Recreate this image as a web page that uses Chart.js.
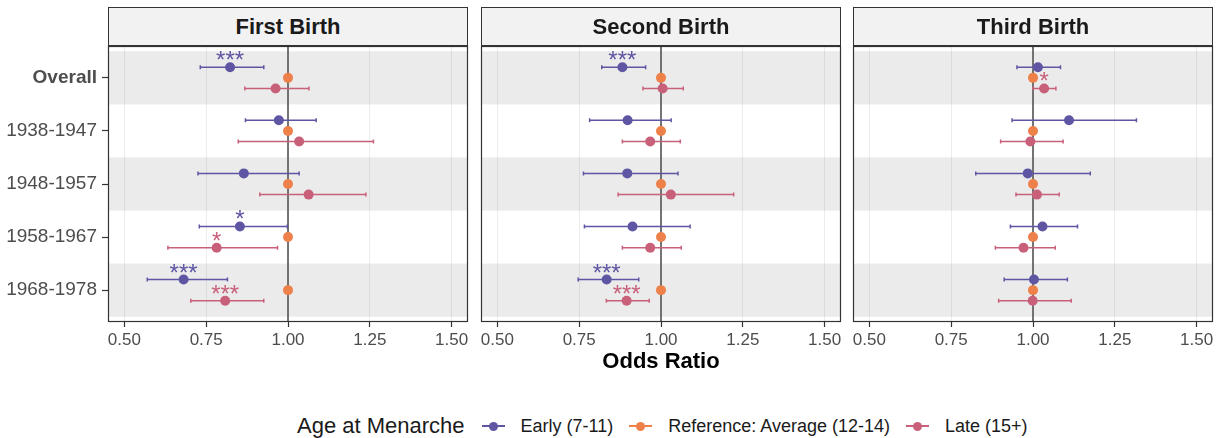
<!DOCTYPE html>
<html>
<head>
<meta charset="utf-8">
<script src="https://cdn.jsdelivr.net/npm/chart.js@4.4.1/dist/chart.umd.min.js"></script>
<style>
  html, body { margin:0; padding:0; background:#ffffff; }
  body { width:1225px; height:438px; position:relative; overflow:hidden; font-family:"Liberation Sans", Arial, sans-serif; }
  canvas { position:absolute; }
  .strip { position:absolute; top:7px; height:39px; box-sizing:border-box; border:1px solid #333; background:#F2F2F2;
           font-weight:bold; font-size:22px; color:#1A1A1A; display:flex; align-items:center; justify-content:center; }
  .axtitle { position:absolute; left:481px; width:360px; top:348px; text-align:center; font-weight:bold; font-size:22px; color:#000; }
  .legend { position:absolute; left:297px; top:411px; height:30px; display:flex; align-items:center; white-space:nowrap; }
  .legend .ttl { font-size:22px; color:#1A1A1A; margin-right:17px; }
  .legend .key { position:relative; width:23px; height:20px; margin-right:16px; }
  .legend .key .ln { position:absolute; left:0; right:0; top:9px; height:2px; }
  .legend .key .dt { position:absolute; left:7px; top:5.5px; width:9px; height:9px; border-radius:50%; }
  .legend .lab { font-size:18px; color:#1A1A1A; margin-right:16px; }
</style>
</head>
<body>
<canvas id="c0" width="473" height="311" style="left:0px;top:41px;width:473px;height:311px"></canvas>
<canvas id="c1" width="370" height="311" style="left:476px;top:41px;width:370px;height:311px"></canvas>
<canvas id="c2" width="370" height="311" style="left:848px;top:41px;width:370px;height:311px"></canvas>
<div id="strips"></div>
<div class="axtitle">Odds Ratio</div>
<div class="legend" id="legend"></div>
<script>
// ---------- data ----------
const categories = ['Overall', '1938-1947', '1948-1957', '1958-1967', '1968-1978'];
const panelTitles = ['First Birth', 'Second Birth', 'Third Birth'];
const seriesNames = ['Early (7-11)', 'Reference: Average (12-14)', 'Late (15+)'];
const xTickValues = [0.5, 0.75, 1.0, 1.25, 1.5];
const legendTitle = 'Age at Menarche';
const axisTitle = 'Odds Ratio';

const referenceOR = [1, 1, 1, 1, 1];

// First Birth
const firstEarlyOR = [0.823, 0.972, 0.865, 0.853, 0.681];
const firstEarlyLo = [0.732, 0.870, 0.725, 0.729, 0.570];
const firstEarlyHi = [0.926, 1.086, 1.034, 0.998, 0.815];
const firstEarlySig = ['***', '', '', '*', '***'];
const firstLateOR = [0.962, 1.034, 1.063, 0.782, 0.808];
const firstLateLo = [0.868, 0.848, 0.914, 0.633, 0.703];
const firstLateHi = [1.064, 1.261, 1.238, 0.968, 0.926];
const firstLateSig = ['', '', '', '*', '***'];

// Second Birth
const secondEarlyOR = [0.882, 0.898, 0.897, 0.913, 0.834];
const secondEarlyLo = [0.819, 0.782, 0.763, 0.766, 0.747];
const secondEarlyHi = [0.953, 1.031, 1.052, 1.089, 0.932];
const secondEarlySig = ['***', '', '', '', '***'];
const secondLateOR = [1.005, 0.967, 1.030, 0.967, 0.895];
const secondLateLo = [0.945, 0.882, 0.869, 0.882, 0.833];
const secondLateHi = [1.068, 1.059, 1.222, 1.062, 0.964];
const secondLateSig = ['', '', '', '', '***'];

// Third Birth
const thirdEarlyOR = [1.015, 1.110, 0.984, 1.029, 1.003];
const thirdEarlyLo = [0.951, 0.936, 0.825, 0.931, 0.912];
const thirdEarlyHi = [1.084, 1.316, 1.175, 1.136, 1.105];
const thirdEarlySig = ['', '', '', '', ''];
const thirdLateOR = [1.034, 0.992, 1.012, 0.971, 0.999];
const thirdLateLo = [1.000, 0.901, 0.948, 0.885, 0.895];
const thirdLateHi = [1.070, 1.092, 1.080, 1.068, 1.117];
const thirdLateSig = ['*', '', '', '', ''];

// ---------- styling ----------
const FONT = '"Liberation Sans", Arial, sans-serif';
const colors = ['#5E56A3', '#EE8049', '#C8607A'];
const dodge = [-0.2, 0, 0.2];

const panels = [
  { early: [firstEarlyOR, firstEarlyLo, firstEarlyHi, firstEarlySig], late: [firstLateOR, firstLateLo, firstLateHi, firstLateSig] },
  { early: [secondEarlyOR, secondEarlyLo, secondEarlyHi, secondEarlySig], late: [secondLateOR, secondLateLo, secondLateHi, secondLateSig] },
  { early: [thirdEarlyOR, thirdEarlyLo, thirdEarlyHi, thirdEarlySig], late: [thirdLateOR, thirdLateLo, thirdLateHi, thirdLateSig] }
];

const decor = {
  id: 'decor',
  beforeDraw(chart) {
    const { ctx, chartArea: a, scales: { y } } = chart;
    ctx.save();
    ctx.fillStyle = '#ffffff';
    ctx.fillRect(a.left, a.top, a.right - a.left, a.bottom - a.top);
    ctx.fillStyle = '#EBEBEB';
    categories.forEach((c, i) => {
      if (i % 2 === 0) {
        const t = y.getPixelForValue(i - 0.5), b = y.getPixelForValue(i + 0.5);
        ctx.fillRect(a.left, Math.min(t, b), a.right - a.left, Math.abs(b - t));
      }
    });
    ctx.restore();
  },
  beforeDatasetsDraw(chart) {
    const { ctx, chartArea: a, scales: { x, y } } = chart;
    ctx.save();
    const x1 = x.getPixelForValue(1);
    ctx.strokeStyle = '#666666';
    ctx.lineWidth = 1.8;
    ctx.beginPath(); ctx.moveTo(x1, a.top); ctx.lineTo(x1, a.bottom); ctx.stroke();
    chart.data.datasets.forEach(ds => {
      if (!ds.errLo) return;
      ctx.strokeStyle = ds.errColor;
      ctx.lineWidth = 1.5;
      ds.data.forEach((p, i) => {
        const yp = y.getPixelForValue(p.y);
        const xl = x.getPixelForValue(ds.errLo[i]), xh = x.getPixelForValue(ds.errHi[i]);
        ctx.beginPath();
        ctx.moveTo(xl, yp); ctx.lineTo(xh, yp);
        ctx.moveTo(xl, yp - 2); ctx.lineTo(xl, yp + 2);
        ctx.moveTo(xh, yp - 2); ctx.lineTo(xh, yp + 2);
        ctx.stroke();
      });
    });
    ctx.restore();
  },
  afterDatasetsDraw(chart) {
    const { ctx, scales: { x, y } } = chart;
    ctx.save();
    ctx.font = '24px ' + FONT;
    ctx.textAlign = 'center';
    ctx.textBaseline = 'alphabetic';
    chart.data.datasets.forEach(ds => {
      if (!ds.sig) return;
      ctx.fillStyle = ds.errColor;
      ds.data.forEach((p, i) => {
        if (ds.sig[i]) ctx.fillText(ds.sig[i], x.getPixelForValue(p.x), y.getPixelForValue(p.y) + 1);
      });
    });
    ctx.restore();
  },
  afterDraw(chart) {
    const { ctx, chartArea: a } = chart;
    ctx.save();
    ctx.strokeStyle = '#333333';
    ctx.lineWidth = 1.2;
    ctx.strokeRect(Math.round(a.left) + 0.5, Math.round(a.top) + 0.5, Math.round(a.right - a.left) - 1, Math.round(a.bottom - a.top) - 1);
    ctx.restore();
  }
};

function buildDatasets(p) {
  const mk = (name, color, off, or, lo, hi, sig) => ({
    label: name,
    data: or.map((v, i) => ({ x: v, y: i + off })),
    backgroundColor: color,
    borderWidth: 0,
    pointRadius: 5,
    pointHoverRadius: 5,
    errLo: lo, errHi: hi, sig: sig, errColor: color
  });
  return [
    mk(seriesNames[0], colors[0], dodge[0], p.early[0], p.early[1], p.early[2], p.early[3]),
    mk(seriesNames[2], colors[2], dodge[2], p.late[0], p.late[1], p.late[2], p.late[3]),
    { label: seriesNames[1], data: referenceOR.map((v, i) => ({ x: v, y: i + dodge[1] })), backgroundColor: colors[1], borderWidth: 0, pointRadius: 5 }
  ];
}

panels.forEach((p, k) => {
  const showY = k === 0;
  new Chart(document.getElementById('c' + k), {
    type: 'scatter',
    data: { datasets: buildDatasets(p) },
    plugins: [decor],
    options: {
      responsive: false,
      animation: false,
      devicePixelRatio: 1,
      layout: { padding: { top: 5, right: 5, left: showY ? 0 : 5, bottom: 0 } },
      plugins: { legend: { display: false }, tooltip: { enabled: false } },
      events: [],
      scales: {
        x: {
          type: 'linear', min: 0.45, max: 1.55,
          afterBuildTicks: s => { s.ticks = xTickValues.map(v => ({ value: v })); },
          afterFit: s => { s.height = 30; s.paddingLeft = 0; s.paddingRight = 0; },
          ticks: { callback: v => v.toFixed(2), font: { family: FONT, size: 17 }, color: '#4D4D4D', padding: 3, autoSkip: false, maxRotation: 0 },
          grid: { color: 'rgba(0,0,0,0.07)', lineWidth: 1, drawTicks: true, tickLength: 5, tickColor: '#333333', tickWidth: 1.2 },
          border: { display: false }
        },
        y: {
          type: 'linear', min: -0.6, max: 4.6, reverse: true, display: showY,
          afterBuildTicks: s => { s.ticks = categories.map((c, i) => ({ value: i })); },
          afterFit: s => { if (showY) s.width = 108; s.paddingTop = 0; s.paddingBottom = 0; },
          ticks: {
            callback: v => categories[v],
            font: ctx => ({ family: FONT, size: 19, weight: (ctx.tick && ctx.tick.value === 0) ? 'bold' : 'normal' }),
            color: '#4D4D4D', padding: 5, autoSkip: false
          },
          grid: { drawOnChartArea: false, drawTicks: true, tickLength: 6, tickColor: '#333333', tickWidth: 1.2 },
          border: { display: false }
        }
      }
    }
  });
});

// strips
const stripLefts = [108, 481, 853];
const stripsEl = document.getElementById('strips');
panelTitles.forEach((t, k) => {
  const d = document.createElement('div');
  d.className = 'strip';
  d.style.left = stripLefts[k] + 'px';
  d.style.width = '360px';
  d.textContent = t;
  stripsEl.appendChild(d);
});
document.querySelector('.axtitle').textContent = axisTitle;

// legend
const lg = document.getElementById('legend');
const tt = document.createElement('span'); tt.className = 'ttl'; tt.textContent = legendTitle; lg.appendChild(tt);
seriesNames.forEach((n, i) => {
  const key = document.createElement('span'); key.className = 'key';
  const ln = document.createElement('span'); ln.className = 'ln'; ln.style.background = colors[i];
  const dt = document.createElement('span'); dt.className = 'dt'; dt.style.background = colors[i];
  key.appendChild(ln); key.appendChild(dt); lg.appendChild(key);
  const lab = document.createElement('span'); lab.className = 'lab'; lab.textContent = n; lg.appendChild(lab);
});
</script>
</body>
</html>
